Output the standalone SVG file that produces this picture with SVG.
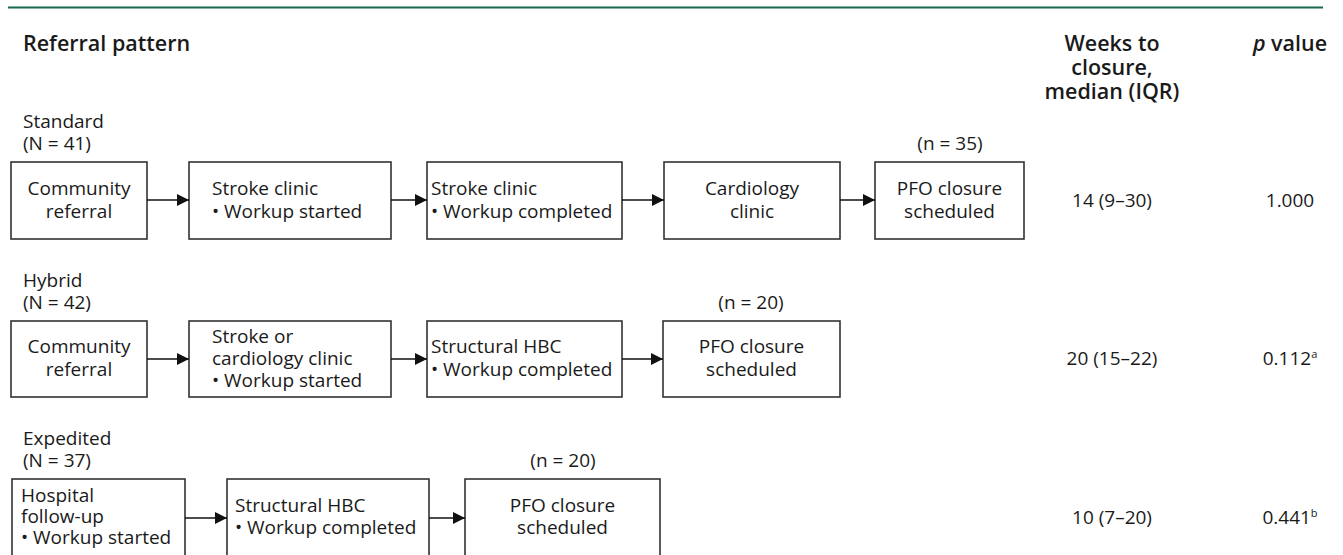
<svg xmlns="http://www.w3.org/2000/svg" width="1343" height="555" viewBox="0 0 1343 555">
<defs>
<marker id="ah" viewBox="0 0 12 12" markerWidth="12" markerHeight="12" refX="12" refY="6" orient="auto" markerUnits="userSpaceOnUse">
<path d="M0,0 L12,6 L0,12 Z" fill="#111"/>
</marker>
</defs>
<style>
text{font-family:"Open Sans","Noto Sans","DejaVu Sans",sans-serif;font-size:19px;fill:#1a1a1a}
.h{font-weight:600;font-size:21.5px}
.c{text-anchor:middle}
.box{fill:#fff;stroke:#333;stroke-width:1.6}
.con line{stroke:#111;stroke-width:1.6;marker-end:url(#ah)}
.sup{font-size:11px}
</style>
<rect x="0" y="0" width="1343" height="555" fill="#fff"/>
<line x1="8" y1="7.5" x2="1323" y2="7.5" stroke="#17694a" stroke-width="2.2"/>

<g id="headers">
<text class="h" x="23" y="51">Referral pattern</text>
<text class="h c" x="1112" y="51">Weeks to</text>
<text class="h c" x="1112" y="75">closure,</text>
<text class="h c" x="1112" y="99">median (IQR)</text>
<text class="h c" x="1290" y="51"><tspan font-style="italic">p</tspan> value</text>
</g>

<g id="row-standard">
<text x="23" y="128">Standard</text>
<text x="23" y="150">(N = 41)</text>
<text class="c" x="950" y="150">(n = 35)</text>
<g id="s1"><rect class="box" x="11" y="162" width="136" height="77"/><text class="c" x="79" y="195">Community</text><text class="c" x="79" y="218">referral</text></g>
<g id="s2"><rect class="box" x="189" y="162" width="202" height="77"/><text x="212" y="195">Stroke clinic</text><text x="212" y="218">• Workup started</text></g>
<g id="s3"><rect class="box" x="427" y="162" width="195" height="77"/><text x="431" y="195">Stroke clinic</text><text x="431" y="218">• Workup completed</text></g>
<g id="s4"><rect class="box" x="664" y="162" width="176" height="77"/><text class="c" x="752" y="195">Cardiology</text><text class="c" x="752" y="218">clinic</text></g>
<g id="s5"><rect class="box" x="875" y="162" width="149" height="77"/><text class="c" x="949.5" y="195">PFO closure</text><text class="c" x="949.5" y="218">scheduled</text></g>
<text class="c" x="1112" y="207">14 (9–30)</text>
<text class="c" x="1290" y="207">1.000</text>
</g>

<g id="row-hybrid">
<text x="23" y="287">Hybrid</text>
<text x="23" y="309">(N = 42)</text>
<text class="c" x="751" y="309">(n = 20)</text>
<g id="h1"><rect class="box" x="11" y="321" width="136" height="76"/><text class="c" x="79" y="353">Community</text><text class="c" x="79" y="376">referral</text></g>
<g id="h2"><rect class="box" x="189" y="321" width="202" height="76"/><text x="212" y="343">Stroke or</text><text x="212" y="365">cardiology clinic</text><text x="212" y="387">• Workup started</text></g>
<g id="h3"><rect class="box" x="427" y="321" width="195" height="76"/><text x="431" y="353">Structural HBC</text><text x="431" y="376">• Workup completed</text></g>
<g id="h4"><rect class="box" x="663" y="321" width="177" height="76"/><text class="c" x="751.5" y="353">PFO closure</text><text class="c" x="751.5" y="376">scheduled</text></g>
<text class="c" x="1112" y="365">20 (15–22)</text>
<text class="c" x="1290" y="365">0.112<tspan class="sup" dy="-7">a</tspan></text>
</g>

<g id="row-expedited">
<text x="23" y="445">Expedited</text>
<text x="23" y="467">(N = 37)</text>
<text class="c" x="563" y="467">(n = 20)</text>
<g id="e1"><rect class="box" x="12" y="479" width="173" height="78"/><text x="21" y="502">Hospital</text><text x="21" y="523">follow-up</text><text x="21" y="544">• Workup started</text></g>
<g id="e2"><rect class="box" x="227" y="479" width="202" height="78"/><text x="235" y="512">Structural HBC</text><text x="235" y="534">• Workup completed</text></g>
<g id="e3"><rect class="box" x="465" y="479" width="195" height="78"/><text class="c" x="562.5" y="512">PFO closure</text><text class="c" x="562.5" y="534">scheduled</text></g>
<text class="c" x="1112" y="524">10 (7–20)</text>
<text class="c" x="1290" y="524">0.441<tspan class="sup" dy="-7">b</tspan></text>
</g>

<g id="connectors" class="con">
<line x1="147" y1="200" x2="189" y2="200"/>
<line x1="391" y1="200" x2="427" y2="200"/>
<line x1="622" y1="200" x2="664" y2="200"/>
<line x1="840" y1="200" x2="875" y2="200"/>
<line x1="147" y1="359" x2="189" y2="359"/>
<line x1="391" y1="359" x2="427" y2="359"/>
<line x1="622" y1="359" x2="663" y2="359"/>
<line x1="185" y1="518" x2="227" y2="518"/>
<line x1="429" y1="518" x2="465" y2="518"/>
</g>
</svg>
